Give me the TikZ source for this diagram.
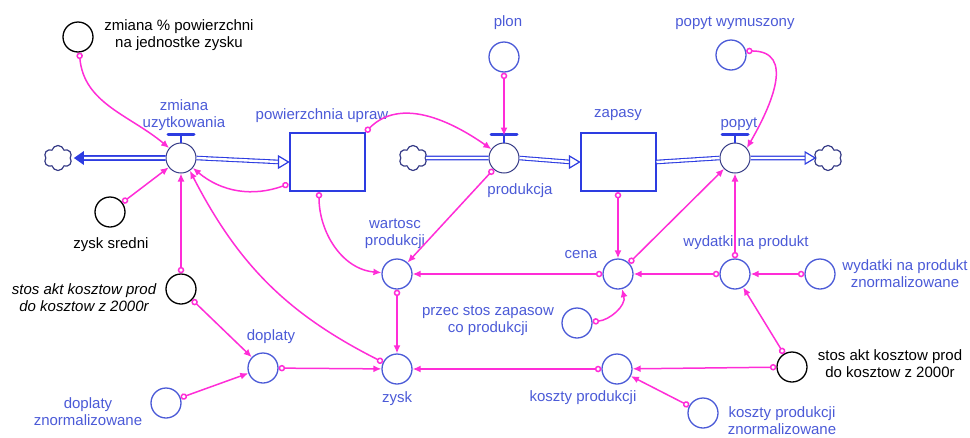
\documentclass[tikz,border=0pt]{standalone}
\usepackage{fontspec}
\setmainfont{Liberation Sans}
\usetikzlibrary{arrows.meta,shapes.symbols,calc}

\definecolor{flowblue}{RGB}{45,60,225}
\definecolor{lblblue}{RGB}{75,90,215}
\definecolor{linkpink}{RGB}{255,45,215}
\definecolor{valvegray}{RGB}{55,60,135}

\tikzset{
  aux/.style={circle, draw=lblblue, line width=1.3pt, minimum size=30pt, inner sep=0pt, fill=white},
  auxblack/.style={aux, draw=black},
  valve/.style={circle, draw=valvegray, line width=1pt, minimum size=30pt, inner sep=0pt, fill=white},
  stock/.style={rectangle, draw=flowblue, line width=2pt, minimum width=75pt, minimum height=58pt, fill=white},
  sink/.style={cloud, cloud puffs=6, draw=valvegray, line width=1.2pt, minimum width=28pt, minimum height=25pt, inner sep=0pt},
  pipe/.style={draw=flowblue, line width=1.1pt, double=white, double distance=2.4pt},
  pipebold/.style={draw=flowblue, line width=1.7pt, double=white, double distance=2.4pt},
  valvebar/.style={draw=flowblue, line width=3pt, line cap=round},
  link/.style={draw=linkpink, line width=1.5pt, {Circle[open,length=6.5pt,width=6.5pt]}-{Latex[length=8pt,width=7pt]}},
  lbl/.style={font=\fontsize{15}{17}\selectfont, text=lblblue, align=center, inner sep=0pt},
  lblblack/.style={lbl, text=black}
}

\begin{document}
\begin{tikzpicture}[x=1pt,y=1pt]
\useasboundingbox (0,0) rectangle (970,-437);

% stocks, flows and clouds
\node[sink] (sinkL) at (58,-158) {};
\node[valve] (zmiana) at (181,-158) {};
\node[stock] (area) at (327,-162) {};
\node[sink] (sinkM) at (413,-158) {};
\node[valve] (prod) at (504,-158) {};
\node[stock] (zapasy) at (618,-162) {};
\node[valve] (popyt) at (735,-158) {};
\node[sink] (sinkR) at (828,-158) {};

% auxiliaries
\node[auxblack] (zpct) at (78,-37) {};
\node[auxblack] (zsred) at (110,-212) {};
\node[auxblack] (stosL) at (181,-289) {};
\node[aux] (doplaty) at (263,-368) {};
\node[aux] (dopzn) at (166,-403) {};
\node[aux] (plon) at (504,-57) {};
\node[aux] (popwym) at (731,-55) {};
\node[aux] (wartosc) at (397,-274) {};
\node[aux] (zysk) at (397,-369) {};
\node[aux] (cena) at (618,-274) {};
\node[aux] (przec) at (577,-323) {};
\node[aux] (wydatki) at (735,-274) {};
\node[aux] (wydzn) at (820,-274) {};
\node[aux] (koszty) at (617,-369) {};
\node[auxblack] (stosR) at (792,-367) {};
\node[aux] (koszn) at (703,-413) {};

% labels
\node[lblblack] (tzpct) at (179,-35) {zmiana \% powierzchni\\na jednostke zysku};
\node[lbl] (tzmiana) at (184,-115) {zmiana\\uzytkowania};
\node[lbl] (tarea) at (322,-116) {powierzchnia upraw};
\node[lbl] (tplon) at (508,-23) {plon};
\node[lbl] (tprod) at (520,-191) {produkcja};
\node[lbl] (tzapasy) at (618,-115) {zapasy};
\node[lbl] (tpopyt) at (739,-124) {popyt};
\node[lbl] (tpopwym) at (735,-23) {popyt wymuszony};
\node[lblblack] (tzsred) at (111,-245) {zysk sredni};
\node[lblblack, font=\fontsize{15}{17}\selectfont\itshape] (tstosL) at (84,-298) {stos akt kosztow prod\\do kosztow z 2000r};
\node[lbl] (tdoplaty) at (271,-337) {doplaty};
\node[lbl] (tdopzn) at (88,-412) {doplaty\\znormalizowane};
\node[lbl] (twartosc) at (395,-234) {wartosc\\produkcji};
\node[lbl] (tzysk) at (397,-399) {zysk};
\node[lbl] (tcena) at (581,-255) {cena};
\node[lbl] (tprzec) at (488,-321) {przec stos zapasow\\co produkcji};
\node[lbl] (twydatki) at (746,-243) {wydatki na produkt};
\node[lbl] (twydzn) at (905,-274) {wydatki na produkt\\znormalizowane};
\node[lbl] (tkoszty) at (583,-398) {koszty produkcji};
\node[lblblack] (tstosR) at (890,-364) {stos akt kosztow prod\\do kosztow z 2000r};
\node[lbl] (tkoszn) at (782,-421) {koszty produkcji\\znormalizowane};

% pipes
\coordinate (tipL) at ($(sinkL.east)+(3,0)$);
\draw[pipebold] (zmiana.west) -- ($(tipL)+(9,0)$);
\fill[flowblue] (tipL) -- ++(10,7) -- ++(0,-14) -- cycle;
\draw[pipe] (zmiana.east) -- ($(area.west)+(-9,0)$);
\draw[flowblue, line width=1.2pt, fill=white] (area.west) -- ++(-10,6) -- ++(0,-12) -- cycle;
\draw[pipe] (sinkM.east) -- (prod.west);
\draw[pipe] (prod.east) -- ($(zapasy.west)+(-9,0)$);
\draw[flowblue, line width=1.2pt, fill=white] (zapasy.west) -- ++(-10,6) -- ++(0,-12) -- cycle;
\draw[pipe] (zapasy.east) -- (popyt.west);
\draw[pipe] (popyt.east) -- ($(sinkR.west)+(-9,0)$);
\draw[flowblue, line width=1.2pt, fill=white] (sinkR.west) -- ++(-10,6) -- ++(0,-12) -- cycle;

% valve handles
\foreach \v in {zmiana,prod,popyt} {
  \draw[flowblue, line width=1.2pt] (\v.north) -- ++(0,7);
  \draw[valvebar] ($(\v.north)+(-13,8)$) -- ++(26,0);
}

% connectors
\draw[link] (zpct) to[out=-85,in=140] (zmiana);
\draw[link] (zsred) -- (zmiana);
\draw[link] (stosL) -- (zmiana);
\draw[link] (zysk) to[bend left=18] (zmiana.-55);
\draw[link] ($(area.south west)+(0,8)$) to[out=200,in=-40] (zmiana);
\draw[link] (area.north east) to[out=45,in=145] (prod);
\draw[link] ($(area.south)+(-8,0)$) to[out=-90,in=175] (wartosc);
\draw[link] (plon) -- ($(prod.north)+(0,7)$);
\draw[link] (prod) -- (wartosc);
\draw[link] (zapasy.south) -- (cena);
\draw[link] (cena) -- (popyt);
\draw[link] (popwym.15) to[out=0,in=60,looseness=1.3] (popyt.40);
\draw[link] (wydatki) -- (popyt);
\draw[link] (cena) -- (wartosc);
\draw[link] (wydatki) -- (cena);
\draw[link] (wydzn) -- (wydatki);
\draw[link] (przec) to[out=5,in=-75] (cena);
\draw[link] (stosR) -- (wydatki);
\draw[link] (stosR) -- (koszty);
\draw[link] (koszn) -- (koszty);
\draw[link] (koszty) -- (zysk);
\draw[link] (wartosc) -- (zysk);
\draw[link] (doplaty) -- (zysk);
\draw[link] (stosL) -- (doplaty);
\draw[link] (dopzn) -- (doplaty);
\end{tikzpicture}
\end{document}
